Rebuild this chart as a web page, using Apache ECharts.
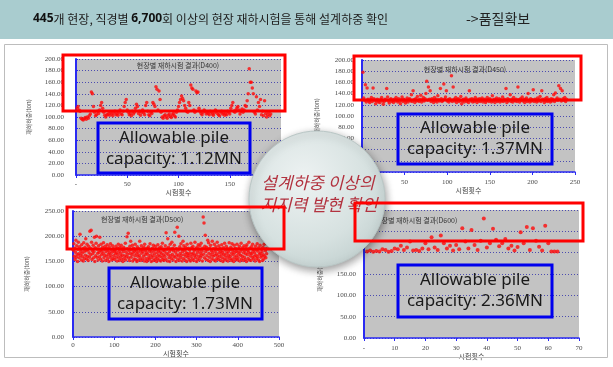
<!DOCTYPE html>
<html>
<head>
<meta charset="utf-8">
<script src="https://cdn.jsdelivr.net/npm/echarts@6/dist/echarts.min.js"></script>
<style>
html,body{margin:0;padding:0;background:#fff;}
#chartsBox{width:613px;height:367px;}
</style>
</head>
<body>
<div id="chartsBox"></div>
<script>
// 재하시험 결과 (시험순번 1,2,3... 순서대로 하중값)
var d400 = [115,118,112,110,
	98,96,95,97,99,96,100,98,102,105,
	143,140,118,
	108,102,104,110,106,112,120,125,115,108,103,100,104,
	104,106,103,108,105,102,107,110,104,106,103,108,112,105,104,
	110,118,125,130,112,108,104,106,102,110,
	105,108,115,122,118,106,110,103,108,112,107,104,120,125,110,
	104,102,108,106,125,122,118,152,148,112,145,130,108,100,98,
	102,104,100,98,103,105,101,99,104,106,102,100,108,112,118,
	125,130,136,132,128,120,115,110,108,125,120,155,150,148,112,
	108,145,142,143,115,110,106,104,108,112,110,105,108,106,104,
	110,108,105,103,107,112,110,106,104,102,108,110,105,107,103,106,104,110,108,105,
	115,120,125,110,108,112,116,118,112,105,110,114,108,112,120,118,128,140,183,160,
	160,150,140,108,105,135,112,125,118,130,104,110,102,128,106,100,104,108,102,105];
var d450 = [178,132,128,156,125,150,130,127,124,129,133,126,150,131,128,122,127,130,125,128,
	124,129,133,127,121,126,130,128,149,134,127,123,129,131,126,128,124,130,127,133,
	128,125,131,127,122,129,134,126,130,128,123,127,132,125,129,131,127,138,126,145,
	129,124,131,127,135,128,126,130,137,125,129,133,127,131,140,162,128,152,130,145,
	126,131,128,124,133,127,130,125,136,129,127,149,131,126,128,157,130,134,145,127,
	129,125,131,128,172,126,152,130,127,133,124,129,131,126,128,135,122,127,130,125,
	129,132,126,128,124,145,130,127,131,125,129,126,133,128,124,130,127,131,126,129,
	132,125,128,130,124,127,133,129,126,131,128,125,136,127,130,124,129,132,126,128,
	131,125,129,127,134,126,130,128,149,124,131,127,129,138,126,130,125,133,128,127,
	130,126,152,129,125,131,128,134,127,130,124,129,132,126,140,128,125,131,127,129,
	147,126,130,128,125,132,127,129,135,126,145,130,128,124,131,127,133,126,129,128,
	125,131,127,130,138,126,141,129,132,128,154,130,149,127,145,131,128,133,126,130];
var d500 = [172,185,160,176,154,168,192,158,181,163,150,174,188,165,157,179,204,162,170,153,
	183,166,159,175,151,187,169,156,178,162,195,171,155,184,160,173,152,180,167,158,
	210,176,163,212,188,154,171,165,182,157,169,198,150,177,161,186,200,158,174,166,
	153,181,168,159,198,172,155,184,163,170,151,178,166,187,157,174,162,180,152,169,
	176,160,183,155,171,164,150,179,167,158,185,162,173,153,168,181,156,175,161,170,
	154,172,165,180,158,167,151,176,163,184,157,170,152,178,166,160,182,155,173,162,
	150,169,178,156,174,161,186,153,168,159,199,175,164,206,157,171,152,180,166,190,
	158,173,163,182,151,167,176,155,170,161,184,154,172,165,150,179,160,168,153,175,
	162,190,157,171,152,181,166,174,155,169,160,178,151,184,163,172,156,167,150,176,
	164,153,179,158,170,155,185,162,173,150,168,157,176,161,182,152,171,165,154,180,
	159,174,150,167,156,183,162,171,153,177,160,168,151,179,165,158,186,154,172,163,
	152,170,160,181,155,207,166,174,151,195,163,178,157,169,150,184,161,173,156,188,
	164,176,153,171,160,182,208,158,168,150,175,163,218,155,172,161,200,152,179,166,
	157,185,162,174,151,169,190,156,181,163,172,153,178,160,167,150,184,165,158,176,
	162,154,173,167,151,186,159,177,164,155,180,166,152,171,161,188,157,174,163,150,
	178,168,155,183,160,172,153,181,166,158,186,162,170,151,176,238,164,226,157,180,
	202,169,154,178,161,173,192,152,187,166,158,176,150,182,163,171,155,190,167,160,
	175,153,184,162,170,151,179,165,156,188,161,173,154,181,167,159,176,152,170,163,
	183,157,168,150,177,164,155,186,161,172,153,180,166,158,175,151,169,162,187,156,
	173,160,178,152,166,185,155,171,163,150,182,167,158,176,154,170,161,184,153,168,
	157,175,164,180,151,169,162,186,155,173,160,177,152,167,181,158,171,154,165,179,
	150,183,163,172,156,168,188,153,176,161,166,152,179,165,158,184,170,155,174,160,
	167,151,180,162,173,156,185,159,170,153,177,164,150,182,166,158,174,161,169,152,
	178,163,155,184,160,196,171,157,175,165];
var d600 = [203,205,202,204,203,208,206,202,204,210,
	208,216,206,212,226,205,206,204,210,222,
	208,236,212,206,240,222,210,216,205,218,
	208,257,226,210,253,218,206,228,280,212,
	222,256,230,215,222,232,210,216,205,213,
	248,222,260,206,257,228,214,205,263,222,
	203,203,203];
var chartTitles = ['현장별 재하시험 결과(D400)','현장별 재하시험 결과(D450)','현장별 재하시험 결과(D500)','현장별 재하시험 결과(D600)'];
var capacityTxt = ['1.12MN','1.37MN','1.73MN','2.36MN'];

function toPoints(arr){
	var out=[];
	for(var i=0;i<arr.length;i++){
		out.push([i+1,arr[i]]);
	}
	return out;
}

var fontKr='"Noto Sans CJK KR", "Noto Sans", sans-serif';
var plotGrid={show:true,backgroundColor:'#c3c3c3',borderWidth:0};
var blueLine={show:true,lineStyle:{color:'#2a2af2',width:1.5}};
var dotLine={show:true,lineStyle:{color:'#4c4cb0',type:[1,2],width:1}};

function labelOf(margin,fmt){
	return {margin:margin,formatter:fmt,fontSize:7,color:'#4a4a4a',fontFamily:'"Liberation Serif", serif'};
}
function xAxisOf(idx,max,step,margin,gap,zeroTxt){
	return {
		type:'value',gridIndex:idx,min:0,max:max,interval:step,
		axisLine:blueLine,
		axisTick:{show:true,length:3,lineStyle:{color:'#2a2af2'}},
		axisLabel:labelOf(margin,function(v){return v===0?zeroTxt:v;}),
		splitLine:{show:false},
		name:'시험횟수',nameLocation:'middle',nameGap:gap,
		nameTextStyle:{fontSize:7,color:'#444',fontFamily:fontKr}
	};
}
function yAxisOf(idx,max,step,margin,gap){
	return {
		type:'value',gridIndex:idx,min:0,max:max,interval:step,
		axisLine:{show:true,lineStyle:{color:'#2a2af2',width:2}},
		axisTick:{show:true,inside:true,length:2,lineStyle:{color:'#2a2af2'}},
		axisLabel:labelOf(margin,function(v){return v.toFixed(2);}),
		splitLine:dotLine,
		name:'재하하중(ton)',nameLocation:'middle',nameRotate:90,nameGap:gap,
		nameTextStyle:{fontSize:6,color:'#555',fontFamily:fontKr}
	};
}

function dotSeries(idx,arr,size){
	return {
		type:'scatter',xAxisIndex:idx,yAxisIndex:idx,
		data:toPoints(arr),symbol:'circle',symbolSize:size,
		itemStyle:{color:'#ff0a0a'},silent:true
	};
}

function boxRect(x,y,w,h,color){
	return {type:'rect',z:60,shape:{x:x,y:y,width:w,height:h},
		style:{fill:'transparent',stroke:color,lineWidth:3}};
}
function capText(cx,cy,i){
	return {type:'text',z:70,x:cx,y:cy,
		style:{text:'Allowable pile\ncapacity: '+capacityTxt[i],font:'17px "Noto Sans", sans-serif',
			fill:'#1a1a1a',align:'center',verticalAlign:'middle',lineHeight:21}};
}
function smallTitle(x,y,i,align){
	return {type:'text',z:40,x:x,y:y,
		style:{text:chartTitles[i],font:'7px '+fontKr,fill:'#333',align:align,verticalAlign:'middle'}};
}

var chartsBox = echarts.init(document.getElementById('chartsBox'));
var option = {
	animation:false,
	grid:[
		Object.assign({left:76,top:59,width:205,height:116},plotGrid),
		Object.assign({left:362,top:60,width:213,height:112},plotGrid),
		Object.assign({left:73,top:211,width:206,height:126},plotGrid),
		Object.assign({left:364,top:210,width:215,height:128},plotGrid)
	],
	xAxis:[
		xAxisOf(0,200,50,6,10,'-'),
		xAxisOf(1,250,50,7,13,'-'),
		xAxisOf(2,500,100,5,11,'0'),
		xAxisOf(3,70,10,7,13,'-')
	],
	yAxis:[
		yAxisOf(0,200,20,12,44),
		yAxisOf(1,200,20,8,42),
		yAxisOf(2,250,50,9,43),
		yAxisOf(3,300,50,8,41)
	],
	series:[
		dotSeries(0,d400,3.5),
		dotSeries(1,d450,3.5),
		dotSeries(2,d500,3.5),
		dotSeries(3,d600,4)
	],
	graphic:[
		//상단 제목
		{type:'rect',z:1,shape:{x:0,y:0,width:613,height:39},style:{fill:'#a9cccf'}},
		{type:'text',z:2,x:33,y:19,style:{
			text:'{b|445}개 현장, 직경별 {b|6,700}회 이상의 현장 재하시험을 통해 설계하중 확인',
			font:'12px '+fontKr,fill:'#222',verticalAlign:'middle',
			rich:{b:{fontWeight:'bold',fontSize:12,fontFamily:'"Noto Sans", sans-serif',fill:'#111'}}}},
		{type:'text',z:2,x:466,y:19,style:{text:'->품질확보',font:'14px '+fontKr,fill:'#222',verticalAlign:'middle'}},
		{type:'rect',z:1,shape:{x:4.5,y:44.5,width:603,height:313},style:{fill:'transparent',stroke:'#bdbdbd',lineWidth:1}},
		smallTitle(178,65,0,'center'),
		smallTitle(465,69,1,'center'),
		smallTitle(101,219,2,'left'),
		smallTitle(375,220,3,'left'),
		//가운데 원
		{type:'circle',z:50,shape:{cx:317,cy:199,r:68},style:{
			fill:new echarts.graphic.RadialGradient(0.4,0.35,0.8,[
				{offset:0,color:'#edf2f2'},{offset:0.6,color:'#d6e1e0'},{offset:1,color:'#bccbca'}]),
			stroke:'#b9c6c5',lineWidth:1,
			shadowBlur:8,shadowColor:'rgba(0,0,0,0.4)',shadowOffsetX:1,shadowOffsetY:3}},
		{type:'text',z:55,x:318,y:183,style:{text:'설계하중 이상의',font:'italic 17px '+fontKr,fill:'#b2323f',align:'center',verticalAlign:'middle'}},
		{type:'text',z:55,x:319,y:205,style:{text:'지지력 발현 확인',font:'italic 17px '+fontKr,fill:'#b2323f',align:'center',verticalAlign:'middle'}},
		//빨간 박스
		boxRect(63,55,222,56,'#ff0000'),
		boxRect(354,56,227,44,'#ff0000'),
		boxRect(67,207,217,42,'#ff0000'),
		boxRect(355,203,228,38,'#ff0000'),
		//파란 박스
		boxRect(98,123,152,50,'#0000ee'),
		boxRect(398,114,154,50,'#0000ee'),
		boxRect(109,268,153,51,'#0000ee'),
		boxRect(398,265,154,52,'#0000ee'),
		capText(174,149,0),
		capText(475,139,1),
		capText(185,294,2),
		capText(475,291,3)
	]
};
chartsBox.setOption(option);
</script>
</body>
</html>
